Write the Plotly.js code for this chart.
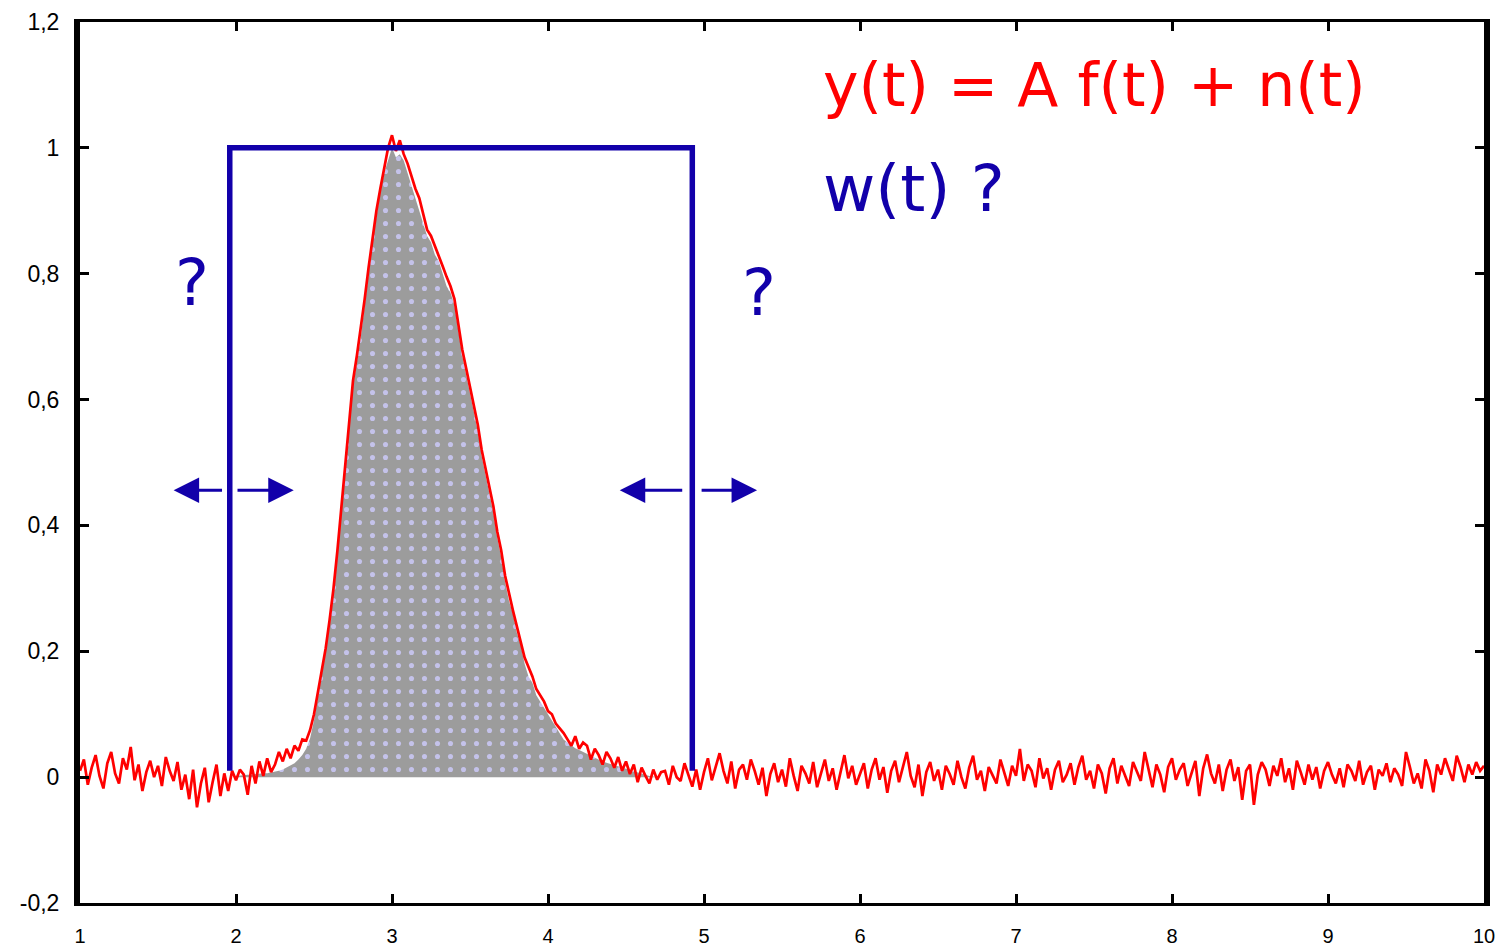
<!DOCTYPE html>
<html>
<head>
<meta charset="utf-8">
<script src="https://cdn.plot.ly/plotly-3.0.1.min.js"></script>
<style>html,body{margin:0;padding:0;background:#fff;}#chart{width:1509px;height:950px;}</style>
</head>
<body>
<div id="chart"></div>
<script>
// ---- data ----
const tStart = 1.0;          // first sample time
const tStep = 0.025;         // sampling step
// measured signal y(t) = A f(t) + n(t)
const measured = [
  0.010, 0.028, -0.012, 0.015, 0.035, 0.002, -0.018, 0.022, 0.040, 0.006,
  -0.010, 0.030, 0.012, 0.048, -0.005, 0.020, -0.022, 0.008, 0.026, 0.000,
  0.018, -0.014, 0.032, 0.010, -0.006, 0.024, -0.020, 0.004, -0.035, 0.012,
  -0.048, -0.010, 0.015, -0.040, -0.008, 0.020, -0.030, 0.006, -0.022, 0.010,
  -0.005, 0.012, 0.004, -0.028, 0.018, -0.010, 0.025, 0.002, 0.030, 0.008,
  0.020, 0.040, 0.025, 0.045, 0.030, 0.050, 0.042, 0.060, 0.058, 0.075,
  0.100, 0.135, 0.165, 0.205, 0.250, 0.300, 0.360, 0.430, 0.500, 0.570,
  0.630, 0.670, 0.712, 0.760, 0.810, 0.858, 0.900, 0.935, 0.970, 1.000,
  1.020, 0.995, 1.012, 0.990, 0.975, 0.955, 0.935, 0.920, 0.895, 0.870,
  0.860, 0.845, 0.830, 0.812, 0.795, 0.780, 0.760, 0.720, 0.680, 0.650,
  0.620, 0.590, 0.560, 0.520, 0.490, 0.460, 0.430, 0.390, 0.360, 0.320,
  0.290, 0.265, 0.240, 0.215, 0.190, 0.175, 0.160, 0.140, 0.130, 0.120,
  0.105, 0.100, 0.085, 0.078, 0.070, 0.060, 0.050, 0.065, 0.045, 0.055,
  0.050, 0.028, 0.045, 0.035, 0.020, 0.040, 0.030, 0.015, 0.032, 0.010,
  0.025, 0.005, 0.020, -0.008, 0.015, 0.002, -0.010, 0.012, -0.004, 0.008,
  0.010, -0.012, 0.018, 0.000, -0.006, 0.022, 0.005, -0.015, 0.012, -0.020,
  0.008, 0.030, -0.005, 0.015, 0.038, 0.010, -0.010, 0.025, -0.018, 0.012,
  0.020, -0.004, 0.028, 0.010, -0.012, 0.015, -0.030, 0.005, 0.022, -0.008,
  0.012, -0.015, 0.030, 0.002, -0.022, 0.018, 0.006, -0.010, 0.024, -0.016,
  0.004, 0.028, -0.006, 0.014, -0.020, 0.010, 0.035, -0.002, 0.018, -0.012,
  0.006, 0.022, -0.018, 0.012, 0.030, -0.004, 0.016, -0.025, 0.010, 0.026,
  -0.008, 0.014, 0.040, 0.002, -0.016, 0.020, -0.030, 0.008, 0.024, -0.006,
  0.012, -0.020, 0.018, 0.005, -0.012, 0.026, 0.000, -0.018, 0.015, 0.034,
  -0.004, 0.010, -0.022, 0.016, 0.004, -0.010, 0.028, 0.008, -0.014, 0.018,
  0.002, 0.045, -0.006, 0.020, 0.010, -0.016, 0.030, -0.002, 0.014, -0.020,
  0.012, 0.026, -0.008, 0.004, 0.022, -0.012, 0.016, 0.034, -0.004, 0.010,
  -0.018, 0.020, 0.006, -0.026, 0.014, 0.030, -0.010, 0.018, 0.002, -0.014,
  0.024, 0.008, -0.006, 0.040, 0.012, -0.016, 0.020, 0.004, -0.024, 0.016,
  0.030, -0.004, 0.012, 0.022, -0.014, 0.008, 0.026, -0.030, 0.014, 0.036,
  0.006, -0.010, 0.020, -0.022, 0.012, 0.028, -0.006, 0.016, -0.036, 0.010,
  0.020, -0.044, 0.004, 0.024, 0.012, -0.014, 0.018, 0.002, 0.030, -0.008,
  0.014, -0.020, 0.026, 0.008, -0.012, 0.020, -0.004, 0.016, -0.018, 0.010,
  0.024, 0.004, -0.010, 0.014, -0.016, 0.020, 0.010, -0.006, 0.026, -0.012,
  0.008, 0.018, -0.020, 0.012, 0.002, 0.022, -0.008, 0.014, 0.004, -0.014,
  0.040, 0.016, -0.010, 0.006, -0.018, 0.028, 0.010, -0.024, 0.020, 0.004,
  0.030, 0.012, -0.006, 0.034, 0.016, -0.008, 0.020, 0.004, 0.024, 0.010,
  0.018
];
// clean pulse A f(t) (grey area)
const pulseStart = 2.0;
const pulse = [
  0.002, 0.003, 0.003, 0.004, 0.004, 0.005, 0.005, 0.006, 0.006, 0.007,
  0.008, 0.010, 0.012, 0.015, 0.018, 0.022, 0.028, 0.035, 0.045, 0.062,
  0.090, 0.125, 0.160, 0.200, 0.240, 0.290, 0.350, 0.420, 0.490, 0.560,
  0.620, 0.660, 0.700, 0.750, 0.800, 0.850, 0.890, 0.930, 0.960, 0.980,
  1.000, 0.985, 0.990, 0.980, 0.960, 0.940, 0.920, 0.900, 0.880, 0.860,
  0.850, 0.830, 0.820, 0.800, 0.780, 0.770, 0.750, 0.710, 0.670, 0.640,
  0.610, 0.580, 0.550, 0.510, 0.480, 0.450, 0.420, 0.380, 0.350, 0.310,
  0.280, 0.260, 0.230, 0.210, 0.180, 0.160, 0.150, 0.130, 0.120, 0.110,
  0.100, 0.090, 0.080, 0.070, 0.060, 0.055, 0.050, 0.046, 0.043, 0.040,
  0.036, 0.033, 0.030, 0.027, 0.025, 0.023, 0.021, 0.019, 0.017, 0.015,
  0.013, 0.011, 0.009, 0.007, 0.005, 0.003, 0.002, 0.001, 0.000
];
// window w(t)
const windowX = [1.96, 1.96, 4.925, 4.925];
const windowY = [0.01, 1.0, 1.0, 0.01];
// arrows [tail, head] at arrowY
const arrowY = 0.456;
const arrowTails = [1.92, 2.0, 4.87, 4.975];
const arrowHeads = [1.60, 2.37, 4.46, 5.34];
// question marks
const qX = [1.72, 5.35];
const qY = [0.785, 0.77];
// axis ticks
const xTicks = [1, 2, 3, 4, 5, 6, 7, 8, 9, 10];
const yTicks = [-0.2, 0, 0.2, 0.4, 0.6, 0.8, 1, 1.2];
const yTickText = ['-0,2', '0', '0,2', '0,4', '0,6', '0,8', '1', '1,2'];

// ---- build ----
const t = measured.map((_, i) => +(tStart + i * tStep).toFixed(4));
const tp = pulse.map((_, i) => +(pulseStart + i * tStep).toFixed(4));

const RED = '#ff0000';
const BLUE = '#1200aa';

const traces = [
  {
    x: tp, y: pulse, type: 'scatter', mode: 'lines',
    line: {width: 0, color: '#9c9c9c'},
    fill: 'tozeroy', fillcolor: '#9c9c9c',
    fillpattern: {shape: '.', bgcolor: '#9c9c9c', fgcolor: '#c4c2ea', size: 13, solidity: 0.12},
    hoverinfo: 'skip'
  },
  {
    x: t, y: measured, type: 'scatter', mode: 'lines',
    line: {color: RED, width: 2.7}
  },
  {
    x: windowX, y: windowY, type: 'scatter', mode: 'lines',
    line: {color: BLUE, width: 5.5}
  }
];

const annotations = [];
for (let i = 0; i < arrowTails.length; i++) {
  annotations.push({
    x: arrowHeads[i], y: arrowY, ax: arrowTails[i], ay: arrowY,
    xref: 'x', yref: 'y', axref: 'x', ayref: 'y',
    text: '', showarrow: true, arrowhead: 2, arrowsize: 1.7, arrowwidth: 3,
    arrowcolor: BLUE
  });
}
for (let i = 0; i < qX.length; i++) {
  annotations.push({
    x: qX[i], y: qY[i], xref: 'x', yref: 'y', text: '?', showarrow: false,
    font: {family: 'DejaVu Sans', size: 64, color: BLUE},
    xanchor: 'center', yanchor: 'middle'
  });
}
annotations.push({
  x: 5.75, y: 1.1, xref: 'x', yref: 'y', text: 'y(t) = A f(t) + n(t)', showarrow: false,
  font: {family: 'DejaVu Sans', size: 60, color: RED}, xanchor: 'left', yanchor: 'middle'
});
annotations.push({
  x: 5.75, y: 0.935, xref: 'x', yref: 'y', text: 'w(t) ?', showarrow: false,
  font: {family: 'DejaVu Sans', size: 64, color: BLUE}, xanchor: 'left', yanchor: 'middle'
});

const layout = {
  width: 1509, height: 950,
  margin: {l: 80, r: 25, t: 22, b: 47, pad: 0},
  paper_bgcolor: '#ffffff', plot_bgcolor: '#ffffff',
  showlegend: false,
  font: {family: 'Liberation Sans', color: '#000'},
  xaxis: {
    range: [1, 10], tickvals: xTicks, ticktext: xTicks.map(String),
    showgrid: false, zeroline: false,
    showline: true, linecolor: '#000', linewidth: 3, mirror: 'ticks',
    ticks: 'inside', ticklen: 9, tickwidth: 3, tickcolor: '#000',
    tickfont: {size: 20, color: '#000'}, ticklabelstandoff: 13
  },
  yaxis: {
    range: [-0.2, 1.2], tickvals: yTicks, ticktext: yTickText,
    showgrid: false, zeroline: false,
    showline: true, linecolor: '#000', linewidth: 6, mirror: 'ticks',
    ticks: 'inside', ticklen: 9, tickwidth: 3, tickcolor: '#000',
    tickfont: {size: 23, color: '#000'}, ticklabelstandoff: 10
  },
  annotations: annotations
};

Plotly.newPlot('chart', traces, layout, {displayModeBar: false, staticPlot: true});
</script>
</body>
</html>
